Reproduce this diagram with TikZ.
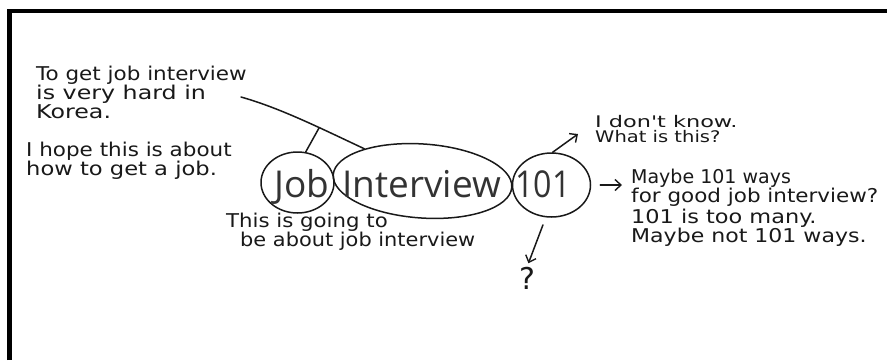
\documentclass[tikz,border=0pt]{standalone}
\usepackage{fontspec}
\usetikzlibrary{arrows.meta,shapes.geometric}
\newfontfamily\titlefont{Open Sans}
\newfontfamily\handfont{DejaVu Sans}
% stretch a line of hand lettering sideways
\newcommand\wider[2]{\scalebox{#1}[1]{#2}}

\begin{document}
\begin{tikzpicture}[x=1pt,y=-1pt,
  pen/.style={line width=1.5pt, line cap=round, line join=round, draw=black!90},
  oval/.style={pen, ellipse, inner sep=0pt},
  title/.style={font=\titlefont\fontsize{37}{40}\selectfont, text=black!80, inner sep=0pt, anchor=base west},
  note/.style={font=\handfont\fontsize{19}{19}\selectfont, inner sep=0pt, anchor=north west, align=left, text=black!90},
  arr/.style={pen, -{Straight Barb[length=6pt,width=11pt,line width=1.4pt]}},
]
\useasboundingbox (0,0) rectangle (887,360);
\fill[white] (0,0) rectangle (887,360);
% frame on the top and left edges
\draw[line width=4.5pt, line join=miter] (9.5,360) -- (9.5,11) -- (887,11);

% the three circled words
\node[oval, minimum width=73pt, minimum height=61pt] (jobO) at (297.5,182.5) {};
\node[oval, minimum width=179pt, minimum height=74pt, rotate=-4] (intO) at (422.5,181) {};
\node[oval, minimum width=78pt, minimum height=64pt] (numO) at (551.5,185) {};
\node[title] (jobT) at (274,197) {Job};
\node[title] (intT) at (342,197) {Interview};
\node[title] (numT) at (515,197) {\wider{0.87}{101}};

% notes
\node[note] (hard) at (36,66) {\wider{1.13}{To get job interview}\\\wider{1.25}{is very hard in}\\\wider{1.25}{Korea.}};
\node[note] (hope) at (26,142) {\wider{1.13}{I hope this is about}\\\wider{1.19}{how to get a job.}};
\node[note] (about) at (226,213) {\wider{1.12}{This is going to}\\\hspace{14pt}\wider{1.1}{be about job interview}};
\node[note, font=\handfont\fontsize{16}{15.5}\selectfont] (dk) at (595,115) {\wider{1.4}{I don't know.}\\\wider{1.22}{What is this?}};
\node[note] (maybe) at (631,169) {Maybe 101 ways\\\wider{1.13}{for good job interview?}\\[2pt]\wider{1.18}{101 is too many.}\\\wider{1.16}{Maybe not 101 ways.}};
\node[note, anchor=north, font=\handfont\fontsize{30}{30}\selectfont] (q) at (527,267) {?};

% connectors
\coordinate (hardEnd) at (241,97);
\draw[pen] (hardEnd) .. controls (280,108) and (320,128) .. (intO.155) coordinate[pos=0.65] (fork);
\draw[pen] (fork) -- (jobO.75);
\coordinate (dkTip) at (578,134);
\draw[arr] (numO.88) -- (dkTip);
\draw[arr, shorten <=9pt, shorten >=9pt] (numO.east) -- (numO.east -| maybe.west);
\draw[arr, shorten <=8pt, shorten >=4pt] (numO.260) -- (q.north);
\end{tikzpicture}
\end{document}
